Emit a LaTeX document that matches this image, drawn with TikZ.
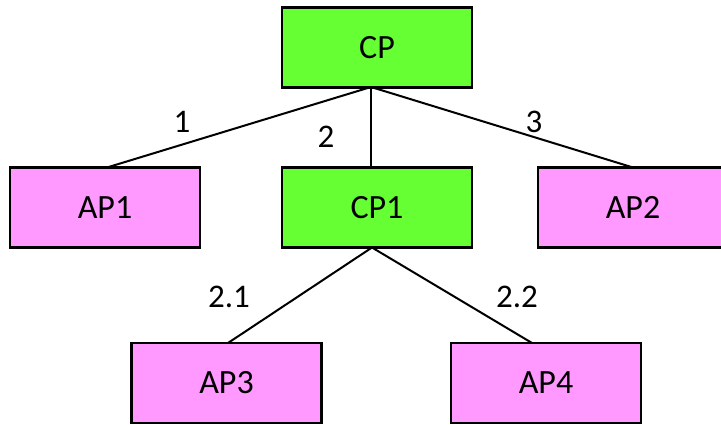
\documentclass[tikz,border=0pt]{standalone}
\usepackage{fontspec}
\setmainfont{Carlito}
\definecolor{cpgreen}{HTML}{66FF33}
\definecolor{appink}{HTML}{FF99FF}
\begin{document}
\begin{tikzpicture}[x=1pt,y=-1pt,
  box/.style={draw=black, line width=2.5pt, minimum width=190pt, minimum height=80pt, inner sep=0pt, font=\fontsize{34}{38}\selectfont},
  cpbox/.style={box, fill=cpgreen},
  apbox/.style={box, fill=appink},
  conn/.style={line width=2pt},
  lbl/.style={font=\fontsize{33}{37}\selectfont}]
\useasboundingbox (0,0) rectangle (721,425);
\node[cpbox] (cp) at (377,47.5) {CP};
\node[apbox] (ap1) at (105,207.5) {AP1};
\node[cpbox] (cp1) at (377,207.5) {CP1};
\node[apbox] (ap2) at (633,207.5) {AP2};
\node[apbox] (ap3) at (226.5,383) {AP3};
\node[apbox] (ap4) at (546,383) {AP4};
\coordinate (cpb) at (371,87);
\coordinate (ap1t) at (107,167.5);
\coordinate (cp1t) at (371,167.5);
\coordinate (ap2t) at (633,167.5);
\coordinate (cp1b) at (372,247.5);
\coordinate (ap3t) at (228,343);
\coordinate (ap4t) at (532,343);
\draw[conn] (cpb) -- (ap1t);
\draw[conn] (cpb) -- (cp1t);
\draw[conn] (cpb) -- (ap2t);
\draw[conn] (cp1b) -- (ap3t);
\draw[conn] (cp1b) -- (ap4t);
\node[lbl] (l1) at (182,122) {1};
\node[lbl] (l2) at (326,137) {2};
\node[lbl] (l3) at (534,122) {3};
\node[lbl] (l21) at (229,297) {2.1};
\node[lbl] (l22) at (517,297) {2.2};
\end{tikzpicture}
\end{document}
